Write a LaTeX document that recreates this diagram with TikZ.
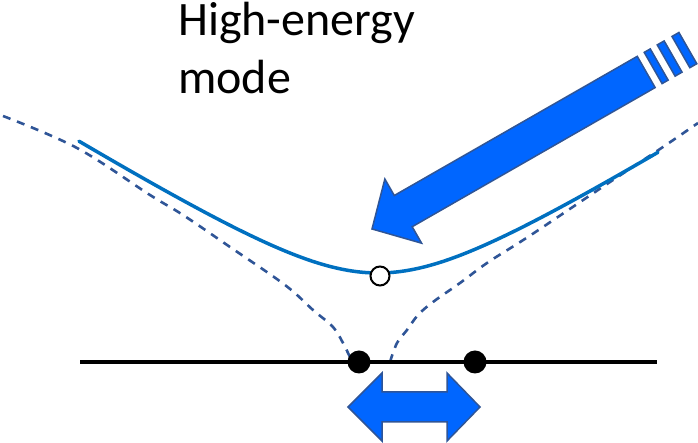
\documentclass[tikz,border=0pt]{standalone}
\usepackage{fontspec}
\setmainfont{Carlito}
\usepackage{xcolor}
\usepackage{tikz}
\usetikzlibrary{arrows.meta, positioning, calc}
\definecolor{curveblue}{RGB}{0, 112, 192}
\definecolor{dashblue}{RGB}{47, 85, 151}
\definecolor{arrowblue}{RGB}{0, 102, 255}

\tikzset{
    solidcurve/.style={curveblue, line width=3.5pt, line cap=round},
    dashcurve/.style={dashblue, line width=2.6pt, dash pattern=on 8pt off 7pt},
    fatarrow/.style={fill=arrowblue, draw=dashblue, line width=1.5pt, line join=miter},
    atom/.style={circle, fill=black, inner sep=0pt, minimum size=23pt},
    emptyatom/.style={circle, fill=white, draw=black, line width=2pt, inner sep=0pt, minimum size=19pt}
}

\begin{document}
\begin{tikzpicture}[x=1pt, y=1pt]
    \useasboundingbox (0,0) rectangle (698,443);
    % label
    \node[anchor=north west, align=left, inner sep=0pt, font=\fontsize{48}{58}\selectfont] (label) at (178,441) {High-energy\\mode};
    % dashed curves
    \draw[dashcurve] plot[smooth, tension=0.6] coordinates {(3,327) (77,295) (150,248) (183,228) (230,196) (285,158) (313,133) (333,116) (343,100) (350,86) (353,81)};
    \draw[dashcurve] plot[smooth, tension=0.6] coordinates {(390,81) (397,100) (407,113) (418,128) (433,141) (460,160) (487,180) (517,199) (540,214) (607,259) (660,294) (698,320)};
    % solid curve
    \draw[solidcurve, domain=79:658, samples=120] plot (\x, {170 + 62*(sqrt(((\x-378)/100)^2 + 1.04^2) - 1.04)});
    % lattice line and atoms
    \coordinate (lineL) at (80,81);
    \coordinate (lineR) at (657,81);
    \draw[black, line width=3.5pt] (lineL) -- (lineR);
    \node[atom] (atomA) at (359,81) {};
    \node[atom] (atomB) at (475,81) {};
    \node[emptyatom] (site) at (380,167) {};
    % incoming arrow
    \begin{scope}[shift={(372,214)}, rotate=29.8]
        \filldraw[fatarrow] (0,0) -- (36,37) -- (36,18) -- (316,18) -- (316,-18) -- (36,-18) -- (36,-37) -- cycle;
        \foreach \a/\b in {324/331, 339/347, 356/364}
            \filldraw[fatarrow] (\a,-18) rectangle (\b,18);
    \end{scope}
    % oscillation arrow
    \filldraw[fatarrow] (348,36) -- (382,70) -- (382,51) -- (447,51) -- (447,70) -- (480,36)
        -- (447,2) -- (447,21) -- (382,21) -- (382,2) -- cycle;
\end{tikzpicture}
\end{document}
